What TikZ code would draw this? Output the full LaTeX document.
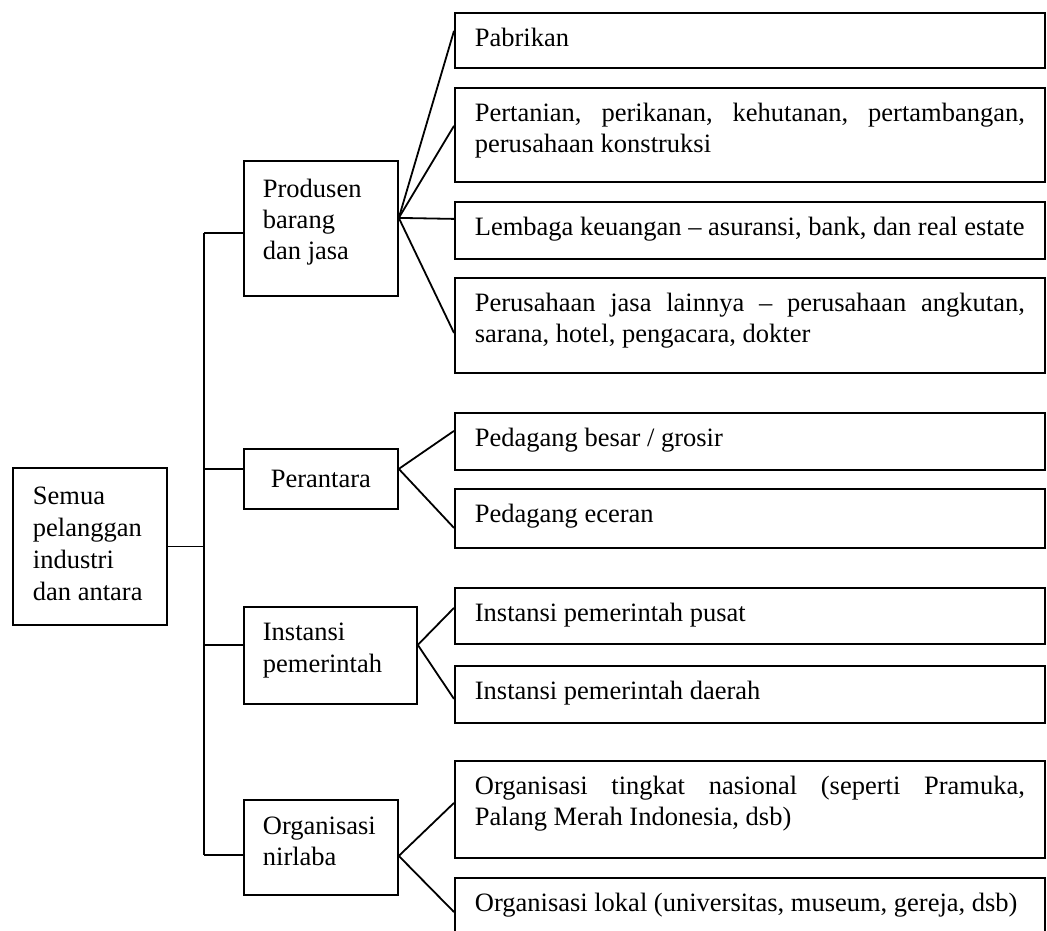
\documentclass[tikz,border=0pt]{standalone}
\usepackage{fontspec}
\setmainfont{Liberation Serif}
\begin{document}
\begin{tikzpicture}[x=1pt,y=-1pt,
  boxnode/.style={draw,line width=1.8pt,anchor=north west,inner sep=0pt,
    font=\fontsize{26.5}{31}\selectfont},
  link/.style={line width=1.8pt}]
\useasboundingbox (0,0) rectangle (1047,931);
\clip (0,0) rectangle (1047,931);
% root
\node[boxnode,inner xsep=20pt,inner ysep=19pt] (root) at (12,467)
  {\parbox[t][119pt][t]{114pt}{\raggedright\baselineskip=32pt Semua\\pelanggan\\industri\\dan antara}};
% level 1
\node[boxnode,inner xsep=19pt,inner ysep=18pt] (prod) at (243,160)
  {\parbox[t][99pt][t]{116pt}{\raggedright Produsen\\barang\\dan jasa}};
\node[boxnode,inner xsep=0pt,inner ysep=0pt] (pera) at (243,448)
  {\parbox[t][60pt][c]{154pt}{\centering Perantara}};
\node[boxnode,inner xsep=19pt,inner ysep=16pt] (inst) at (243,606)
  {\parbox[t][65pt][t]{135pt}{\raggedright\baselineskip=32pt Instansi\\pemerintah}};
\node[boxnode,inner xsep=19pt,inner ysep=17pt] (org) at (243,799)
  {\parbox[t][61pt][t]{116pt}{\raggedright Organisasi\\nirlaba}};
% level 2
\tikzset{rbox/.style={boxnode,inner xsep=20pt,inner ysep=15pt}}
\newcommand\rtext[2]{\parbox[t][#1pt][t]{550pt}{\spaceskip=0.25em plus 1em minus 0.05em #2}}
\node[rbox] (pab) at (454,12) {\rtext{25}{Pabrikan}};
\node[rbox] (pert) at (454,87) {\rtext{64}{Pertanian, perikanan, kehutanan, pertambangan, perusahaan konstruksi}};
\node[rbox] (lem) at (454,201) {\rtext{27}{Lembaga keuangan -- asuransi, bank, dan real estate}};
\node[rbox] (jasa) at (454,277) {\rtext{65}{Perusahaan jasa lainnya -- perusahaan angkutan, sarana, hotel, pengacara, dokter}};
\node[rbox] (besar) at (454,412) {\rtext{27}{Pedagang besar / grosir}};
\node[rbox] (ecer) at (454,488) {\rtext{29}{Pedagang eceran}};
\node[rbox] (pusat) at (454,587) {\rtext{26}{Instansi pemerintah pusat}};
\node[rbox] (daerah) at (454,665) {\rtext{27}{Instansi pemerintah daerah}};
\node[rbox] (nas) at (454,760) {\rtext{67}{Organisasi tingkat nasional (seperti Pramuka, Palang Merah Indonesia, dsb)}};
\node[rbox] (lok) at (454,877) {\rtext{60}{Organisasi lokal (universitas, museum, gereja, dsb)}};
% trunk
\coordinate (T1) at (204,233);
\coordinate (T4) at (204,855);
\draw[link] (T1) -- (T4);
\draw[link] (root.east) -- (root.east -| T1);
\draw[link] (T1) -- (T1 -| prod.west);
\draw[link] ([yshift=10pt]pera.west -| T1) -- ([yshift=10pt]pera.west);
\draw[link] ([yshift=10.5pt]inst.west -| T1) -- ([yshift=10.5pt]inst.west);
\draw[link] (T4) -- (T4 -| org.west);
% fans
\coordinate (F1) at ([yshift=10.5pt]prod.east);
\draw[link] (F1) -- ([yshift=9.5pt]pab.west);
\draw[link] (F1) -- ([yshift=9pt]pert.west);
\draw[link] (F1) -- ([yshift=11.5pt]lem.west);
\draw[link] (F1) -- ([yshift=-7.5pt]jasa.west);
\coordinate (F2) at ([yshift=10pt]pera.east);
\draw[link] (F2) -- ([yshift=10.5pt]besar.west);
\draw[link] (F2) -- ([yshift=-9.5pt]ecer.west);
\coordinate (F3) at ([yshift=10.5pt]inst.east);
\draw[link] (F3) -- ([yshift=8pt]pusat.west);
\draw[link] (F3) -- ([yshift=-4.5pt]daerah.west);
\coordinate (F4) at ([yshift=-8.5pt]org.east);
\draw[link] (F4) -- ([yshift=6.5pt]nas.west);
\coordinate (L5) at (454,912);
\draw[link] (F4) -- (L5);
\end{tikzpicture}
\end{document}
